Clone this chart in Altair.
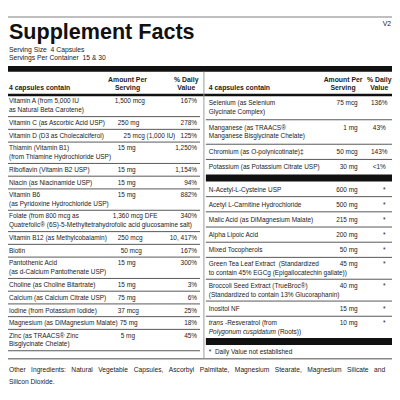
import altair as alt
import pandas as pd

# ---------------- data ----------------
title = "Supplement Facts"
version = "V2"
serving_lines = ["Serving Size\u00a0 4 Capsules", "Servings Per Container\u00a0 15 & 30"]
col_head = "4 capsules contain"
amt_head = ["Amount Per", "Serving"]
dv_head = ["% Daily", "Value"]

left_names = [
    ["Vitamin A (from 5,000 IU", "as Natural Beta Carotene)"],
    ["Vitamin C (as Ascorbic Acid USP)"],
    ["Vitamin D (D3 as Cholecalciferol)"],
    ["Thiamin (Vitamin B1)", "(from Thiamine Hydrochloride USP)"],
    ["Riboflavin (Vitamin B2 USP)"],
    ["Niacin (as Niacinamide USP)"],
    ["Vitamin B6", "(as Pyridoxine Hydrochloride USP)"],
    ["Folate (from 800 mcg as", "Quatrefolic\u00ae (6S)-5-Methyltetrahydrofolic acid glucosamine salt)"],
    ["Vitamin B12 (as Methylcobalamin)"],
    ["Biotin"],
    ["Pantothenic Acid", "(as d-Calcium Pantothenate USP)"],
    ["Choline (as Choline Bitartrate)"],
    ["Calcium (as Calcium Citrate USP)"],
    ["Iodine (from Potassium Iodide)"],
    ["Magnesium (as DiMagnesium Malate)"],
    ["Zinc (as TRAACS\u00ae Zinc", "Bisglycinate Chelate)"],
]
left_amounts = ["1,500 mcg", "250 mg", "25 mcg (1,000 IU)", "15 mg", "15 mg", "15 mg", "15 mg",
                "1,360 mcg DFE", "250 mcg", "50 mcg", "15 mg", "15 mg", "75 mg", "37 mcg", "75 mg", "5 mg"]
left_dv = ["167%", "278%", "125%", "1,250%", "1,154%", "94%", "882%", "340%", "10, 417%",
           "167%", "300%", "3%", "6%", "25%", "18%", "45%"]

right_top_names = [
    ["Selenium (as Selenium", "Glycinate Complex)"],
    ["Manganese (as TRAACS\u00ae", "Manganese Bisglycinate Chelate)"],
    ["Chromium (as O-polynicotinate)\u2021"],
    ["Potassium (as Potassium Citrate USP)"],
]
right_top_amounts = ["75 mcg", "1 mg", "50 mcg", "30 mg"]
right_top_dv = ["136%", "43%", "143%", "<1%"]

right_low_names = [
    ["N-Acetyl-L-Cysteine USP"],
    ["Acetyl L-Carnitine Hydrochloride"],
    ["Malic Acid (as DiMagnesium Malate)"],
    ["Alpha Lipoic Acid"],
    ["Mixed Tocopherols"],
    ["Green Tea Leaf Extract\u00a0 (Standardized", "to contain 45% EGCg (Epigallocatechin gallate))"],
    ["Broccoli Seed Extract (TrueBroc\u00ae)", "(Standardized to contain 13% Glucoraphanin)"],
    ["Inositol NF"],
    ["_trans_ -Resveratrol (from", "_Polygonum cuspidatum_ (Roots))"],
]
right_low_amounts = ["600 mg", "500 mg", "215 mg", "200 mg", "50 mg", "45 mg", "40 mg", "15 mg", "10 mg"]
right_low_dv = ["*", "*", "*", "*", "*", "*", "*", "*", "*"]
footnote = "*\u00a0 Daily Value not established"
other_line1 = "Other Ingredients: Natural Vegetable Capsules, Ascorbyl Palmitate, Magnesium Stearate, Magnesium Silicate and"
other_line2 = "Silicon Dioxide."

# ---------------- layout helpers ----------------
FONT = "Liberation Sans, Arial, Helvetica, sans-serif"
BODY = 6.6
INK = "#222222"

ADV = {}
for ch, w in zip("abcdefghijklmnopqrstuvwxyz",
                 [556, 556, 500, 556, 556, 278, 556, 556, 222, 222, 500, 222, 833, 556, 556, 556, 556, 333, 500, 278, 556, 500, 722, 500, 500, 500]):
    ADV[ch] = w
for ch, w in zip("ABCDEFGHIJKLMNOPQRSTUVWXYZ",
                 [667, 667, 722, 722, 667, 611, 778, 722, 278, 500, 667, 556, 833, 722, 778, 667, 778, 722, 667, 611, 722, 667, 944, 667, 667, 611]):
    ADV[ch] = w
ADV.update({" ": 278, "\u00a0": 278, ",": 278, ".": 278, ":": 278, "(": 333, ")": 333, "-": 333,
            "%": 889, "\u00ae": 737, "&": 667, "\u2021": 556, "*": 389})
for d in "0123456789":
    ADV[d] = 556


def tw(s, size):
    return sum(ADV.get(c, 556) for c in s) * size / 1000.0


texts = []


def add(x, y, text, align="left", weight="normal", style="normal", size=BODY, color=INK, baseline="middle"):
    texts.append(dict(x=x, y=y, text=text, align=align, weight=weight, style=style,
                      size=size, color=color, baseline=baseline))


def add_rich(x, y, line, size=BODY):
    parts = line.split("_")
    cur = x
    for i, seg in enumerate(parts):
        if not seg:
            continue
        lead = len(seg) - len(seg.lstrip(" "))
        trail = len(seg) - len(seg.rstrip(" "))
        cur += tw(" " * lead, size)
        s = seg.strip(" ")
        add(cur, y, s, style="italic" if i % 2 == 1 else "normal", size=size)
        cur += tw(s, size) + tw(" " * trail, size)


hrules = []   # (x1, x2, y, color, width)
rects = []    # (x1, x2, y1, y2)

# frame + header
hrules.append((8, 400, 13, "#aaaaaa", 1.5))
rects.append((8, 400, 63, 69))
rects.append((8, 400, 91.5, 94))
hrules.append((8, 400, 362, "#888888", 1.5))
vrule = (208, 69, 362)

add(9, 36, title, weight="bold", size=22, color="#111111", baseline="alphabetic")
add(399, 20, version, align="right", size=7)
add(9, 46.5, serving_lines[0], size=6.9)
add(9, 55.5, serving_lines[1], size=6.9)

for xn, xa, xd in [(9, 130, 190), (213, 350, 387)]:
    add(xn, 86, col_head, weight="bold", size=7)
    add(xa, 77, amt_head[0], align="center", weight="bold", size=7)
    add(xa, 86, amt_head[1], align="center", weight="bold", size=7)
    add(xd, 77, dv_head[0], align="center", weight="bold", size=7)
    add(xd, 86, dv_head[1], align="center", weight="bold", size=7)

# left column
left_amt_x = [117, 120, 126, 120, 120, 120, 120, 115, 120, 123, 120, 120, 120, 120, 122, 123]
y = 93.0
for i, lines in enumerate(left_names):
    h = 13.0 if len(lines) == 1 else 21.8
    c = y + h / 2
    ys = [c + 0.5] if len(lines) == 1 else [c - 4.5, c + 4.5]
    for line, yy in zip(lines, ys):
        add_rich(9, yy, line)
    add(left_amt_x[i], ys[0], left_amounts[i])
    add(201, ys[0], left_dv[i], align="right")
    y += h
    hrules.append((8, 204, y, "#555555", 1))


def right_block(names, amounts, dvs, y, hs, hd):
    for i, lines in enumerate(names):
        h = hs if len(lines) == 1 else hd
        c = y + h / 2
        ys = [c + 0.5] if len(lines) == 1 else [c - 4.5, c + 4.5]
        for line, yy in zip(lines, ys):
            add_rich(213, yy, line)
        add(365, ys[0], amounts[i], align="right")
        if dvs[i] == "*":
            add(392, ys[0], dvs[i], align="center")
        else:
            add(387, ys[0], dvs[i], align="center")
        y += h
        if i < len(names) - 1:
            hrules.append((210, 400, y, "#555555", 1))
    return y


yb = right_block(right_top_names, right_top_amounts, right_top_dv, 93.0, 15.5, 25.0)
rects.append((210, 400, yb, yb + 7))
yb = right_block(right_low_names, right_low_amounts, right_low_dv, yb + 7, 15.5, 22.3)
rects.append((210, 400, yb, yb + 7))
add(213, 355, footnote)

# other ingredients (justified first line)
words = other_line1.split(" ")
natural = sum(tw(w, 6.8) for w in words)
left_edge, right_edge = 9.0, 393.0
gap = (right_edge - left_edge - natural) / (len(words) - 1)
cx = left_edge
for w in words:
    add(cx, 373, w, size=6.8)
    cx += tw(w, 6.8) + gap
add(9, 386, other_line2, size=6.8)

# ---------------- chart ----------------
xs = alt.Scale(domain=[8, 400], nice=False, zero=False)
ys_ = alt.Scale(domain=[8, 400], nice=False, zero=False, reverse=True)

tdf = pd.DataFrame(texts)
layers = []

rdf = pd.DataFrame(rects, columns=["x", "x2", "y", "y2"])
layers.append(alt.Chart(rdf).mark_rect(color="#111111").encode(
    x=alt.X("x:Q", scale=xs, axis=None), x2="x2:Q",
    y=alt.Y("y:Q", scale=ys_, axis=None), y2="y2:Q"))

hdf = pd.DataFrame(hrules, columns=["x", "x2", "y", "c", "w"])
layers.append(alt.Chart(hdf).mark_rule().encode(
    x=alt.X("x:Q", scale=xs, axis=None), x2="x2:Q",
    y=alt.Y("y:Q", scale=ys_, axis=None),
    color=alt.Color("c:N", scale=None), strokeWidth=alt.StrokeWidth("w:Q", scale=None)))

vdf = pd.DataFrame([vrule], columns=["x", "y", "y2"])
layers.append(alt.Chart(vdf).mark_rule(color="#999999", strokeWidth=1).encode(
    x=alt.X("x:Q", scale=xs, axis=None),
    y=alt.Y("y:Q", scale=ys_, axis=None), y2="y2:Q"))

for key, sub in tdf.groupby(["align", "weight", "style", "size", "color", "baseline"]):
    align, weight, style, size, color, baseline = key
    layers.append(alt.Chart(sub[["x", "y", "text"]]).mark_text(
        align=align, baseline=baseline, fontWeight=weight, fontStyle=style,
        fontSize=float(size), font=FONT, color=color).encode(
        x=alt.X("x:Q", scale=xs, axis=None),
        y=alt.Y("y:Q", scale=ys_, axis=None),
        text="text:N"))

chart = alt.layer(*layers).properties(
    width=392, height=392, padding=0, autosize="none", background="white"
).configure_view(stroke=None)

chart.save("out.html", embed_options={"renderer": "svg", "actions": False})
